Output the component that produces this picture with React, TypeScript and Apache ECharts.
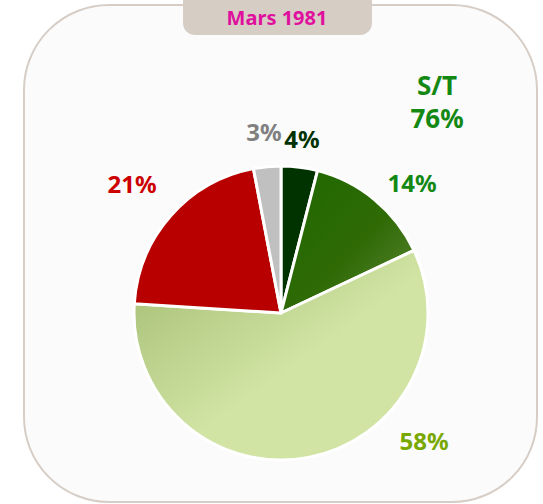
import React, { useEffect, useRef } from "react";
import * as echarts from "echarts";

const TITLE = "Mars 1981";
const CATEGORIES = ["A", "B", "C", "D", "E"];
const VALUES = [4, 14, 58, 21, 3];
const SUBTOTAL_INDEXES = [0, 1, 2];
const LABEL_COLORS = ["#003300", "#138813", "#78a800", "#cc0000", "#808080"];
const LABEL_POS: [number, number][] = [
  [302, 138],
  [412, 182],
  [424, 440],
  [132, 183],
  [264, 131],
];

const FONT = "'Noto Sans', 'Open Sans', sans-serif";

export default function App() {
  const ref = useRef<HTMLDivElement>(null);
  useEffect(() => {
    document.body.style.margin = "0";
    const chart = echarts.init(ref.current!, null, { renderer: "svg" });
    const fills: any[] = [
      "#003300",
      {
        type: "linear",
        x: 0,
        y: 0,
        x2: 1,
        y2: 1,
        colorStops: [
          { offset: 0, color: "#1e6800" },
          { offset: 0.55, color: "#2f6a05" },
          { offset: 1, color: "#5e8838" },
        ],
      },
      {
        type: "linear",
        x: 0,
        y: 0,
        x2: 0.55,
        y2: 0.55,
        colorStops: [
          { offset: 0, color: "#a3bc72" },
          { offset: 1, color: "#d1e4a4" },
        ],
      },
      "#b80000",
      "#c0c0c0",
    ];
    const subtotal = SUBTOTAL_INDEXES.reduce((s, i) => s + VALUES[i], 0);
    chart.setOption({
      animation: false,
      backgroundColor: "#ffffff",
      graphic: [
        {
          type: "rect",
          shape: { x: 24, y: 5, width: 513, height: 497, r: 85 },
          style: { fill: "#fbfbfb", stroke: "#d6cec6", lineWidth: 2 },
          z: -10,
        },
        {
          type: "rect",
          shape: { x: 183, y: -20, width: 189, height: 55, r: 12 },
          style: { fill: "#d6cdc4" },
          z: -5,
        },
        {
          type: "text",
          x: 277,
          y: 17,
          style: {
            text: TITLE,
            fill: "#e0109e",
            font: `bold 20px ${FONT}`,
            textAlign: "center",
            textVerticalAlign: "middle",
          },
        },
        {
          type: "text",
          x: 437,
          y: 101,
          style: {
            text: `S/T\n${subtotal}%`,
            fill: "#138813",
            font: `bold 26px ${FONT}`,
            lineHeight: 33,
            textAlign: "center",
            textVerticalAlign: "middle",
          },
        },
      ],
      series: [
        {
          type: "pie",
          center: [281, 313],
          radius: 147,
          startAngle: 90,
          clockwise: true,
          avoidLabelOverlap: false,
          itemStyle: { borderColor: "#ffffff", borderWidth: 3 },
          labelLine: { show: false },
          label: {
            show: true,
            position: "outside",
            formatter: "{c}%",
            fontFamily: FONT,
            fontWeight: "bold",
            fontSize: 24,
          },
          labelLayout: (p: any) => ({
            x: LABEL_POS[p.dataIndex][0],
            y: LABEL_POS[p.dataIndex][1],
            align: "center",
            verticalAlign: "middle",
          }),
          data: VALUES.map((v, i) => ({
            name: CATEGORIES[i],
            value: v,
            itemStyle: { color: fills[i] },
            label: { color: LABEL_COLORS[i] },
          })),
        },
      ],
    });
    return () => chart.dispose();
  }, []);
  return <div ref={ref} style={{ width: 543, height: 504 }} />;
}
